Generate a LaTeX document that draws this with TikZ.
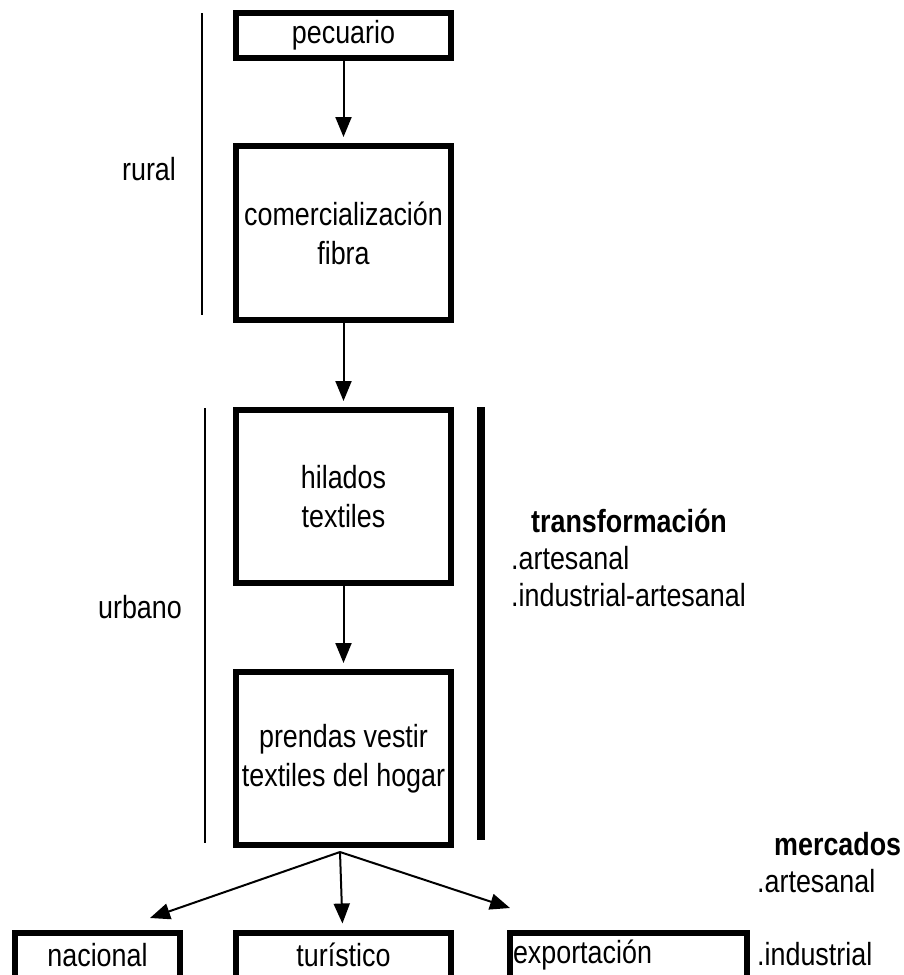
\documentclass[tikz,border=0pt]{standalone}
\usepackage{fontspec}
\setmainfont{Liberation Sans}[FakeStretch=0.84]
\usetikzlibrary{positioning,arrows.meta}

\tikzset{
  caja/.style={draw, line width=6pt, minimum width=215pt, inner sep=3pt,
    align=center, font=\fontsize{32}{39}\selectfont},
  flecha/.style={-{Triangle[width=16pt,length=20pt]}, line width=2pt, shorten >=6pt},
  rotulo/.style={inner sep=0pt, font=\fontsize{32}{39}\selectfont},
}

\begin{document}
\begin{tikzpicture}[x=1pt,y=-1pt]
\useasboundingbox (0,0) rectangle (904,975);
\clip (0,0) rectangle (904,975);

% cadena principal
\node[caja, minimum height=45pt] (pec) at (343.5,35) {pecuario};
\node[caja, minimum height=174pt] (com) at (343.5,233) {comercialización\\fibra};
\node[caja, minimum height=173pt] (hil) at (343.5,496.5) {hilados\\textiles};
\node[caja, minimum height=173pt] (pre) at (343.5,758.5) {prendas vestir\\textiles del hogar};

% mercados
\node[caja, minimum width=165pt, minimum height=45pt] (nac) at (97.5,955) {nacional};
\node[caja, minimum height=45pt] (tur) at (343.5,955) {turístico};
\node[caja, text width=231pt, align=left, minimum height=45pt] (exp) at (628.5,955) {exportación};

\draw[flecha] (pec) -- (com);
\draw[flecha] (com) -- (hil);
\draw[flecha] (hil) -- (pre);

\coordinate (rama) at (340,852);
\coordinate (punta1) at (150,918);
\coordinate (punta3) at (510,908);
\draw[flecha, shorten >=0pt] (rama) -- (punta1);
\draw[flecha] (rama) -- (tur);
\draw[flecha, shorten >=0pt] (rama) -- (punta3);

% ambitos
\draw[line width=2pt] (202,13) -- (202,315);
\draw[line width=2pt] (205,408) -- (205,843);
\node[rotulo] (rur) at (149,169) {rural};
\node[rotulo] (urb) at (140,607) {urbano};

% transformacion
\draw[line width=8pt] (481,407) -- (481,840);
\node[rotulo, anchor=base west, font=\fontsize{32}{39}\selectfont\bfseries] (trf) at (531,532) {transformación};
\node[rotulo, anchor=base west] (trfa) at (511,569) {.artesanal};
\node[rotulo, anchor=base west] (trfi) at (511,606) {.industrial-artesanal};

\node[rotulo, anchor=base west, font=\fontsize{32}{39}\selectfont\bfseries] (mer) at (774,855) {mercados};
\node[rotulo, anchor=base west] (mera) at (757,892) {.artesanal};
\node[rotulo, anchor=base west] (meri) at (757,965) {.industrial};
\end{tikzpicture}
\end{document}
